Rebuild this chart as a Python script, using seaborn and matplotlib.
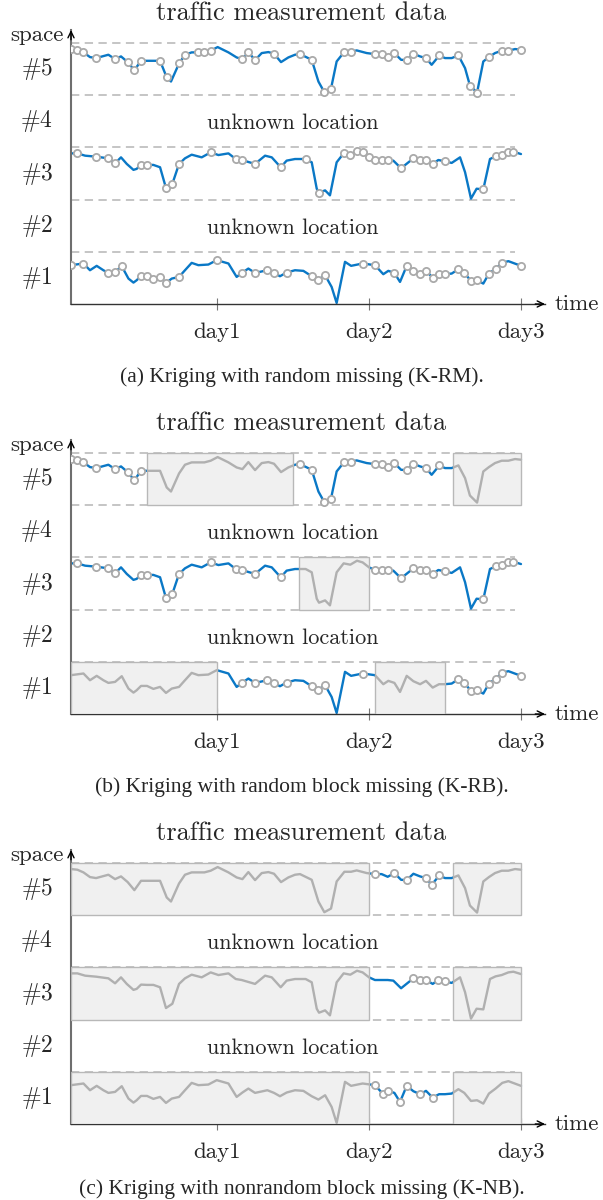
import numpy as np
import matplotlib
matplotlib.use("Agg")
import matplotlib.pyplot as plt
from matplotlib.patches import Rectangle
import seaborn as sns

# ---- measurement curves: knot times (days) and level inside each sensor band (0..1)
t5 = [0.039, 0.081, 0.121, 0.164, 0.204, 0.285, 0.329, 0.368, 0.412, 0.456, 0.500, 0.581,
      0.625, 0.669, 0.697, 0.750, 0.789, 0.833, 0.873, 0.917, 0.958, 1.004, 1.075, 1.129,
      1.167, 1.206, 1.250, 1.294, 1.338, 1.375, 1.421, 1.469, 1.513, 1.546, 1.623, 1.667,
      1.706, 1.750, 1.787, 1.838, 1.882, 1.919, 1.985, 2.039, 2.083, 2.123, 2.167, 2.211,
      2.248, 2.292, 2.336, 2.375, 2.412, 2.463, 2.500, 2.544, 2.588, 2.632, 2.664, 2.711,
      2.752, 2.789, 2.829, 2.873, 2.917, 2.961, 3.000]
v5 = [0.885, 0.872, 0.821, 0.731, 0.712, 0.776, 0.692, 0.744, 0.635, 0.481, 0.660, 0.660,
      0.660, 0.340, 0.263, 0.609, 0.776, 0.821, 0.821, 0.821, 0.853, 0.923, 0.821, 0.724,
      0.692, 0.827, 0.673, 0.808, 0.827, 0.795, 0.635, 0.724, 0.776, 0.788, 0.679, 0.263,
      0.058, 0.128, 0.647, 0.833, 0.833, 0.859, 0.808, 0.788, 0.788, 0.737, 0.808, 0.679,
      0.673, 0.795, 0.744, 0.712, 0.583, 0.763, 0.712, 0.712, 0.763, 0.519, 0.186, 0.051,
      0.647, 0.731, 0.808, 0.853, 0.853, 0.885, 0.872]

t3 = [0.039, 0.081, 0.132, 0.204, 0.285, 0.329, 0.368, 0.406, 0.450, 0.471, 0.500, 0.539,
      0.581, 0.625, 0.664, 0.706, 0.750, 0.789, 0.833, 0.899, 0.958, 1.009, 1.075, 1.123,
      1.162, 1.250, 1.316, 1.360, 1.419, 1.458, 1.513, 1.583, 1.623, 1.656, 1.671, 1.711,
      1.743, 1.787, 1.833, 1.877, 1.921, 1.958, 2.000, 2.039, 2.083, 2.123, 2.160, 2.211,
      2.292, 2.336, 2.375, 2.419, 2.456, 2.500, 2.544, 2.599, 2.632, 2.671, 2.708, 2.752,
      2.796, 2.833, 2.873, 2.917, 2.950, 3.000]
v3 = [0.886, 0.886, 0.842, 0.823, 0.791, 0.696, 0.810, 0.684, 0.570, 0.589, 0.671, 0.665,
      0.665, 0.620, 0.222, 0.304, 0.684, 0.791, 0.861, 0.810, 0.905, 0.854, 0.886, 0.778,
      0.759, 0.684, 0.842, 0.810, 0.620, 0.747, 0.778, 0.778, 0.715, 0.209, 0.133, 0.177,
      0.082, 0.715, 0.886, 0.861, 0.937, 0.905, 0.810, 0.759, 0.759, 0.759, 0.747, 0.601,
      0.791, 0.759, 0.759, 0.684, 0.759, 0.734, 0.703, 0.810, 0.525, 0.019, 0.209, 0.196,
      0.778, 0.829, 0.854, 0.905, 0.918, 0.873]

t1 = [0.039, 0.121, 0.164, 0.208, 0.252, 0.285, 0.329, 0.373, 0.417, 0.450, 0.471, 0.500,
      0.539, 0.581, 0.625, 0.664, 0.702, 0.750, 0.789, 0.833, 0.877, 0.943, 0.998, 1.075,
      1.129, 1.167, 1.206, 1.250, 1.331, 1.375, 1.414, 1.458, 1.513, 1.568, 1.623, 1.667,
      1.711, 1.754, 1.787, 1.842, 1.882, 1.958, 2.039, 2.094, 2.127, 2.167, 2.204, 2.248,
      2.292, 2.336, 2.375, 2.419, 2.461, 2.500, 2.544, 2.588, 2.627, 2.671, 2.711, 2.752,
      2.789, 2.833, 2.877, 2.917, 3.000]
v1 = [0.744, 0.776, 0.647, 0.731, 0.647, 0.596, 0.615, 0.724, 0.487, 0.410, 0.455, 0.538,
      0.538, 0.481, 0.519, 0.404, 0.487, 0.519, 0.647, 0.788, 0.744, 0.756, 0.840, 0.776,
      0.519, 0.603, 0.679, 0.596, 0.647, 0.596, 0.532, 0.603, 0.647, 0.635, 0.532, 0.468,
      0.551, 0.327, 0.019, 0.808, 0.731, 0.776, 0.744, 0.571, 0.635, 0.596, 0.423, 0.731,
      0.628, 0.571, 0.635, 0.506, 0.571, 0.571, 0.583, 0.667, 0.596, 0.442, 0.455, 0.391,
      0.583, 0.679, 0.788, 0.821, 0.731]

# ---- sampled (observed) times
obs5_rm = [0.039, 0.081, 0.121, 0.204, 0.329, 0.412, 0.456, 0.500, 0.625, 0.669, 0.750,
           0.789, 0.873, 0.917, 0.958, 1.167, 1.206, 1.250, 1.375, 1.546, 1.623, 1.706,
           1.750, 1.838, 1.882, 2.039, 2.083, 2.123, 2.167, 2.248, 2.292, 2.375, 2.463,
           2.588, 2.664, 2.711, 2.789, 2.873, 2.917, 3.000]
obs3_rm = [0.081, 0.204, 0.285, 0.329, 0.500, 0.539, 0.664, 0.706, 0.750, 0.958, 1.123,
           1.162, 1.250, 1.419, 1.583, 1.671, 1.833, 1.877, 1.921, 1.958, 2.000, 2.039,
           2.083, 2.123, 2.211, 2.292, 2.336, 2.375, 2.419, 2.500, 2.752, 2.833, 2.873,
           2.917, 2.950]
obs1_rm = [0.039, 0.121, 0.285, 0.329, 0.373, 0.500, 0.539, 0.581, 0.625, 0.664, 0.750,
           0.998, 1.167, 1.250, 1.331, 1.375, 1.458, 1.623, 1.667, 1.711, 1.958, 2.039,
           2.167, 2.248, 2.292, 2.336, 2.375, 2.419, 2.461, 2.500, 2.588, 2.627, 2.671,
           2.711, 2.789, 2.833, 2.877, 3.000]
obs5_nb = [2.039, 2.167, 2.248, 2.375, 2.412, 2.463]
obs3_nb = [2.292, 2.336, 2.375, 2.456, 2.500]
obs1_nb = [2.039, 2.094, 2.127, 2.204, 2.248, 2.336, 2.419]

# ---- missing blocks (start day, end day) per sensor
T_LEFT, T_RIGHT = 0.039, 3.158
rb5_blocks = [(0.54, 1.50), (2.55, 3.00)]
rb3_blocks = [(1.54, 2.00)]
rb1_blocks = [(T_LEFT, 1.00), (2.04, 2.50)]
nb_blocks = [(T_LEFT, 2.00), (2.55, 3.00)]

row_labels = ["#1", "#2", "#3", "#4", "#5"]
day_ticks = [1, 2, 3]
day_labels = ["day1", "day2", "day3"]
captions = ["(a) Kriging with random missing (K-RM).",
            "(b) Kriging with random block missing (K-RB).",
            "(c) Kriging with nonrandom block missing (K-NB)."]

BLUE = "#0a78c6"
GREY = "#b0b0b0"
DASH = "#c0c0c0"

sns.set_style("white")
plt.rcParams["font.family"] = ["cmr10", "DejaVu Serif"]
plt.rcParams["mathtext.fontset"] = "cm"
plt.rcParams["axes.unicode_minus"] = False
plt.rcParams["axes.formatter.use_mathtext"] = True

fig = plt.figure(figsize=(6.03, 12.0), dpi=100)

W, H = 603.0, 1200.0
ax_left, ax_w, ax_h = 71 / W, 474 / W, 274 / H
bottoms_px = [304, 714, 1124]
caption_px = [377, 787, 1189]

sensors = [(5, np.array(t5), np.array(v5)),
           (3, np.array(t3), np.array(v3)),
           (1, np.array(t1), np.array(v1))]


def in_blocks(t, blocks, tol=0.004):
    out = np.zeros(len(t), dtype=bool)
    for lo, hi in blocks:
        out |= (t >= lo - tol) & (t <= hi + tol)
    return out


def draw_panel(ax, obs, blocks):
    ax.set_xlim(T_LEFT, T_RIGHT)
    ax.set_ylim(0, 5.25)
    ax.hlines([1, 2, 3, 4, 5], T_LEFT, 2.96, colors=DASH, linewidth=1.3,
              linestyles=(0, (4.6, 3.0)), zorder=1)
    for row, t, v in sensors:
        base = row - 1
        sns.lineplot(x=t, y=base + v, ax=ax, color=BLUE, linewidth=1.7,
                     sort=False, estimator=None, zorder=2)
        for lo, hi in blocks[row]:
            rect = Rectangle((lo, base), hi - lo, 1, facecolor="#f0f0f0",
                             edgecolor="#b8b8b8", linewidth=1.0, zorder=3)
            ax.add_patch(rect)
            sns.lineplot(x=t, y=base + v, ax=ax, color=GREY, linewidth=1.7,
                         sort=False, estimator=None, zorder=4)
            ax.lines[-1].set_clip_path(rect)
        keep = np.isin(np.round(t, 3), np.round(obs[row], 3))
        keep &= ~in_blocks(t, blocks[row])
        sns.scatterplot(x=t[keep], y=base + v[keep], ax=ax, s=27, color="white",
                        edgecolor="#aaaaaa", linewidth=1.3, zorder=5)

    # axes with arrow heads
    for side in ("top", "right"):
        ax.spines[side].set_visible(False)
    ax.spines["left"].set_color("#6e6e6e")
    ax.spines["left"].set_linewidth(1.5)
    ax.spines["bottom"].set_color("#333333")
    ax.spines["bottom"].set_linewidth(1.0)
    arrow = dict(arrowstyle="->,head_length=0.45,head_width=0.22", color="black",
                 lw=1.0, shrinkA=0, shrinkB=0)
    ax.annotate("", xy=(1, 0), xycoords="axes fraction", xytext=(-7, 0),
                textcoords="offset points", arrowprops=arrow)
    ax.annotate("", xy=(0, 1), xycoords="axes fraction", xytext=(0, -7),
                textcoords="offset points", arrowprops=arrow)

    ax.set_xticks(day_ticks)
    ax.set_xticklabels(day_labels)
    ax.set_yticks([])
    ax.tick_params(axis="x", bottom=True, direction="inout", length=8, width=0.8,
                   color="#777777", pad=9, labelsize=16.5)
    ax.set_xlabel("")
    ax.set_ylabel("")

    for i, lab in enumerate(row_labels):
        ax.annotate(r"$\%s$" % lab, xy=(0, i + 0.5), xycoords=("axes fraction", "data"),
                    xytext=(-13, 0), textcoords="offset points", ha="right",
                    va="center", fontsize=17)
    for y in (3.5, 1.5):
        ax.text(1.5, y - 0.04, "unknown location", ha="center", va="center",
                fontsize=16)
    ax.annotate("traffic measurement data", xy=(0.485, 1), xycoords="axes fraction",
                xytext=(0, 12), textcoords="offset points", ha="center",
                va="center", fontsize=19)
    ax.annotate("space", xy=(0, 1), xycoords="axes fraction", xytext=(-5, -4),
                textcoords="offset points", ha="right", va="center", fontsize=16.5)
    ax.annotate("time", xy=(1, 0), xycoords="axes fraction", xytext=(7, 0),
                textcoords="offset points", ha="left", va="center", fontsize=16.5)


obs_rm = {5: obs5_rm, 3: obs3_rm, 1: obs1_rm}
obs_nb = {5: obs5_nb, 3: obs3_nb, 1: obs1_nb}
panels = [
    (obs_rm, {5: [], 3: [], 1: []}),
    (obs_rm, {5: rb5_blocks, 3: rb3_blocks, 1: rb1_blocks}),
    (obs_nb, {5: nb_blocks, 3: nb_blocks, 1: nb_blocks}),
]

for k, (obs, blocks) in enumerate(panels):
    ax = fig.add_axes([ax_left, 1 - bottoms_px[k] / H, ax_w, ax_h])
    draw_panel(ax, obs, blocks)
    fig.text(0.5, 1 - caption_px[k] / H, captions[k], ha="center", va="center",
             family="Liberation Serif", fontsize=15.5)

fig.savefig("out.png", dpi=100)
